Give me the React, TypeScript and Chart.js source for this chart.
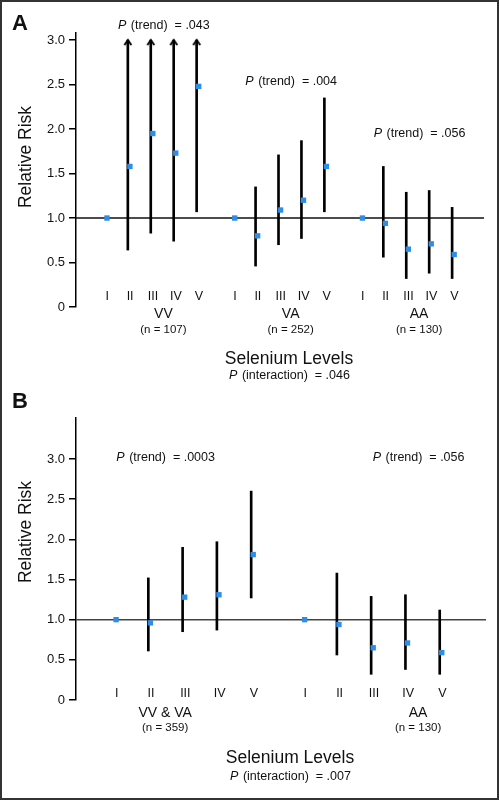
import React, { useEffect, useRef } from "react";
import { Chart, registerables } from "chart.js";

Chart.register(...registerables);

const FONT = '"Liberation Sans", Arial, Helvetica, sans-serif';

// ---------- data ----------
const LEVELS = ["I", "II", "III", "IV", "V"];
const Y_TICKS = [0, 0.5, 1.0, 1.5, 2.0, 2.5, 3.0];

// Panel A
const A_GROUPS = ["VV", "VA", "AA"];
const A_GROUP_N = ["(n = 107)", "(n = 252)", "(n = 130)"];
const A_PTREND = [".043", ".004", ".056"];
const A_PINTERACTION = ".046";

const VV_RR = [1.0, 1.58, 1.95, 1.73, 2.48];
const VV_LO = [null, 0.64, 0.83, 0.74, 1.07];
const VV_HI = [null, 3.0, 3.0, 3.0, 3.0];
const VV_TRUNCATED = [false, true, true, true, true];

const VA_RR = [1.0, 0.8, 1.09, 1.2, 1.58];
const VA_LO = [null, 0.46, 0.7, 0.77, 1.07];
const VA_HI = [null, 1.35, 1.71, 1.87, 2.35];

const AA_RR = [1.0, 0.94, 0.65, 0.71, 0.59];
const AA_LO = [null, 0.56, 0.32, 0.38, 0.32];
const AA_HI = [null, 1.58, 1.29, 1.31, 1.12];

// Panel B
const B_GROUPS = ["VV & VA", "AA"];
const B_GROUP_N = ["(n = 359)", "(n = 130)"];
const B_PTREND = [".0003", ".056"];
const B_PINTERACTION = ".007";

const VVVA_RR = [1.0, 0.96, 1.28, 1.31, 1.81];
const VVVA_LO = [null, 0.61, 0.85, 0.87, 1.27];
const VVVA_HI = [null, 1.52, 1.9, 1.97, 2.6];

// ---------- panel layout specs ----------
type Group = {
  rr: number[];
  lo: (number | null)[];
  hi: (number | null)[];
  truncated?: boolean[];
};

type Spec = {
  letter: string;
  letterBaseline: number;
  yTitleY: number;
  groups: Group[];
  groupNames: string[];
  groupN: string[];
  pTrend: string[];
  pInteraction: string;
  groupStart: number[];
  groupLabelX: number[];
  pTrendY: number[];
  xMin: number;
  xMax: number;
  yMax: number;
  pointOffset: number;
  labelOffset: number;
  padding: { left: number; right: number; top: number; bottom: number };
  romanDy: number;
  nameDy: number;
  nDy: number;
  titleDy: number;
  interDy: number;
  refColor: string;
};

const SPEC_A: Spec = {
  letter: "A",
  letterBaseline: 30,
  yTitleY: 157,
  groups: [
    { rr: VV_RR, lo: VV_LO, hi: VV_HI, truncated: VV_TRUNCATED },
    { rr: VA_RR, lo: VA_LO, hi: VA_HI },
    { rr: AA_RR, lo: AA_LO, hi: AA_HI },
  ],
  groupNames: A_GROUPS,
  groupN: A_GROUP_N,
  pTrend: A_PTREND,
  pInteraction: A_PINTERACTION,
  groupStart: [0, 5.57, 11.14],
  groupLabelX: [2.55, 8.1, 13.7],
  pTrendY: [3.13, 2.5, 1.91],
  xMin: -1.26,
  xMax: 16.53,
  yMax: 3.08,
  pointOffset: 0.09,
  labelOffset: 0.1,
  padding: { left: 0, right: 16, top: 33, bottom: 83 },
  romanDy: -7,
  nameDy: 11,
  nDy: 26,
  titleDy: 57,
  interDy: 72,
  refColor: "#111",
};

const SPEC_B: Spec = {
  letter: "B",
  letterBaseline: 18,
  yTitleY: 142,
  groups: [
    { rr: VVVA_RR, lo: VVVA_LO, hi: VVVA_HI },
    { rr: AA_RR, lo: AA_LO, hi: AA_HI },
  ],
  groupNames: B_GROUPS,
  groupN: B_GROUP_N,
  pTrend: B_PTREND,
  pInteraction: B_PINTERACTION,
  groupStart: [0, 5.5],
  groupLabelX: [1.49, 8.87],
  pTrendY: [2.98, 2.98],
  xMin: -1.11,
  xMax: 10.85,
  yMax: 3.51,
  pointOffset: 0.06,
  labelOffset: 0.08,
  padding: { left: 0, right: 14, top: 28, bottom: 100 },
  romanDy: -3,
  nameDy: 17,
  nDy: 31,
  titleDy: 63,
  interDy: 80,
  refColor: "#444",
};

// ---------- helpers ----------
function makeArrowHead(): HTMLCanvasElement {
  const c = document.createElement("canvas");
  c.width = 10;
  c.height = 16;
  const g = c.getContext("2d")!;
  g.strokeStyle = "#000";
  g.lineWidth = 2;
  g.lineJoin = "miter";
  g.beginPath();
  g.moveTo(1.5, 13);
  g.lineTo(5, 8);
  g.lineTo(8.5, 13);
  g.stroke();
  return c;
}

function drawPText(
  ctx: CanvasRenderingContext2D,
  cx: number,
  baseline: number,
  rest: string,
  size: number
) {
  const fi = `italic ${size}px ${FONT}`;
  const fn = `${size}px ${FONT}`;
  ctx.font = fi;
  const w1 = ctx.measureText("P").width;
  ctx.font = fn;
  const w2 = ctx.measureText(rest).width;
  const x = cx - (w1 + w2) / 2;
  ctx.textAlign = "left";
  ctx.font = fi;
  ctx.fillText("P", x, baseline);
  ctx.font = fn;
  ctx.fillText(rest, x + w1 + 1, baseline);
}

function textPlugin(spec: Spec) {
  return {
    id: "panelText" + spec.letter,
    afterDraw(chart: any) {
      const ctx: CanvasRenderingContext2D = chart.ctx;
      const xs = chart.scales.x;
      const ys = chart.scales.y;
      const ca = chart.chartArea;
      const midX = (ca.left + ca.right) / 2 + 9;
      ctx.save();
      ctx.fillStyle = "#111";
      ctx.textBaseline = "alphabetic";

      // panel letter
      ctx.font = `bold 22px ${FONT}`;
      ctx.textAlign = "left";
      ctx.fillText(spec.letter, 12, spec.letterBaseline);

      // y title
      ctx.save();
      ctx.translate(26, spec.yTitleY);
      ctx.rotate(-Math.PI / 2);
      ctx.font = `17.5px ${FONT}`;
      ctx.textAlign = "center";
      ctx.textBaseline = "middle";
      ctx.fillText("Relative Risk", 0, 0);
      ctx.restore();

      // level labels, group names, n
      spec.groups.forEach((g, gi) => {
        const start = spec.groupStart[gi];
        ctx.textAlign = "center";
        ctx.font = `12.5px ${FONT}`;
        LEVELS.forEach((lab, i) => {
          const px = xs.getPixelForValue(start + i + spec.labelOffset);
          ctx.fillText(lab, px, ca.bottom + spec.romanDy);
        });
        const gx = xs.getPixelForValue(spec.groupLabelX[gi]);
        ctx.font = `14px ${FONT}`;
        ctx.fillText(spec.groupNames[gi], gx, ca.bottom + spec.nameDy);
        ctx.font = `11.5px ${FONT}`;
        ctx.fillText(spec.groupN[gi], gx, ca.bottom + spec.nDy);
        drawPText(
          ctx,
          gx,
          ys.getPixelForValue(spec.pTrendY[gi]),
          " (trend)  = " + spec.pTrend[gi],
          12.5
        );
      });

      // x title & interaction
      ctx.textAlign = "center";
      ctx.font = `17.5px ${FONT}`;
      ctx.fillText("Selenium Levels", midX, ca.bottom + spec.titleDy);
      drawPText(
        ctx,
        midX,
        ca.bottom + spec.interDy,
        " (interaction)  = " + spec.pInteraction,
        12.5
      );
      ctx.restore();
    },
  };
}

function buildConfig(spec: Spec, arrowImg: HTMLCanvasElement): any {
  const whiskers: any[] = [];
  const points: any[] = [];
  const arrows: any[] = [];
  spec.groups.forEach((g, gi) => {
    const start = spec.groupStart[gi];
    g.rr.forEach((v, i) => {
      const x = start + i;
      points.push({ x: x + spec.pointOffset, y: v });
      const lo = g.lo[i];
      const hi = g.hi[i];
      if (lo != null && hi != null) whiskers.push({ x, y: [lo, hi] });
      if (g.truncated && g.truncated[i] && hi != null) arrows.push({ x, y: hi });
    });
  });

  return {
    type: "bar",
    data: {
      datasets: [
        {
          type: "line",
          data: [
            { x: spec.xMin, y: 1 },
            { x: spec.xMax, y: 1 },
          ],
          borderColor: spec.refColor,
          borderWidth: 1.5,
          pointRadius: 0,
          order: 4,
        },
        {
          type: "bar",
          data: whiskers,
          backgroundColor: "#000",
          barThickness: 2,
          borderWidth: 0,
          order: 3,
        },
        {
          type: "scatter",
          data: arrows,
          pointStyle: arrowImg,
          pointRadius: 5,
          order: 2,
        },
        {
          type: "scatter",
          data: points,
          pointStyle: "rect",
          pointRadius: 3.8,
          backgroundColor: "#2f8de8",
          borderWidth: 0,
          order: 1,
        },
      ],
    },
    options: {
      responsive: false,
      animation: false,
      events: [],
      layout: { padding: spec.padding },
      plugins: {
        legend: { display: false },
        tooltip: { enabled: false },
      },
      scales: {
        x: {
          type: "linear",
          min: spec.xMin,
          max: spec.xMax,
          offset: false,
          display: false,
        },
        y: {
          type: "linear",
          min: 0,
          max: spec.yMax,
          afterBuildTicks: (scale: any) => {
            scale.ticks = Y_TICKS.map((v) => ({ value: v }));
          },
          afterFit: (scale: any) => {
            scale.width = 76;
          },
          ticks: {
            color: "#111",
            padding: 4,
            font: { family: FONT, size: 13 },
            callback: (v: any) => (Number(v) === 0 ? "0" : Number(v).toFixed(1)),
          },
          grid: {
            display: true,
            drawOnChartArea: false,
            drawTicks: true,
            tickLength: 7,
            color: "#000",
            lineWidth: 1.5,
          },
          border: { display: true, color: "#000", width: 1.5 },
        },
      },
    },
    plugins: [textPlugin(spec)],
  };
}

function Panel({ spec, top, height }: { spec: Spec; top: number; height: number }) {
  const ref = useRef<HTMLCanvasElement>(null);
  useEffect(() => {
    const chart = new Chart(ref.current!, buildConfig(spec, makeArrowHead()));
    return () => chart.destroy();
  }, [spec]);
  return (
    <canvas
      ref={ref}
      width={500}
      height={height}
      style={{ position: "absolute", left: 0, top, width: 500, height }}
    />
  );
}

export default function App() {
  return (
    <div
      style={{
        position: "fixed",
        left: 0,
        top: 0,
        width: 500,
        height: 800,
        background: "#fff",
        overflow: "hidden",
      }}
    >
      <Panel spec={SPEC_A} top={0} height={390} />
      <Panel spec={SPEC_B} top={390} height={410} />
      <div
        style={{
          position: "absolute",
          left: 0,
          top: 0,
          width: 499,
          height: 800,
          boxSizing: "border-box",
          border: "2px solid #333",
          pointerEvents: "none",
        }}
      />
    </div>
  );
}
